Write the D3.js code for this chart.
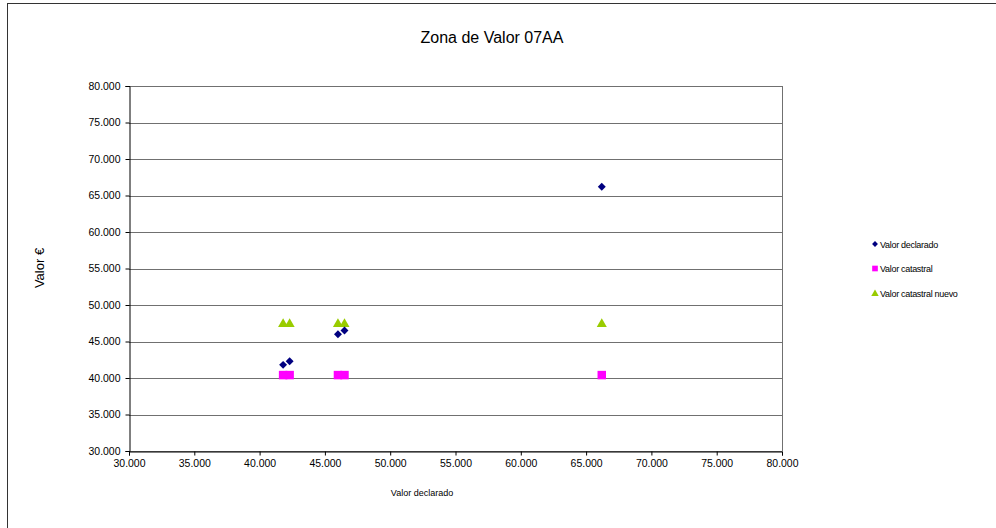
<!DOCTYPE html>
<html>
<head>
<meta charset="utf-8">
<script src="https://cdn.jsdelivr.net/npm/d3@7"></script>
<style>
  body { margin: 0; background: #fff; }
  text { font-family: "Liberation Sans", Arial, sans-serif; fill: #000; }
</style>
</head>
<body>
<svg id="chart" width="996" height="528"></svg>
<script>
// data
const declarado = [41800, 42300, 46000, 46500, 66200];
const valorDeclarado = [41800, 42300, 46000, 46500, 66200];
const valorCatastral = [40400, 40400, 40400, 40400, 40400];
const valorCatastralNuevo = [47600, 47600, 47600, 47600, 47600];
const seriesNames = ["Valor declarado", "Valor catastral", "Valor catastral nuevo"];
const xTicks = d3.range(30000, 80001, 5000);
const yTicks = d3.range(30000, 80001, 5000);

const svg = d3.select("#chart");
// Spanish style thousands: 30.000
const tickFmt = v => (v / 1000).toFixed(0) + ".000";

// outer chart border
svg.append("rect")
  .attr("x", 7.5).attr("y", 3.5)
  .attr("width", 1000).attr("height", 540)
  .attr("fill", "none").attr("stroke", "#333");

const plotLeft = 129, plotRight = 782, plotTop = 86, plotBottom = 451;

const x = d3.scaleLinear().domain([30000, 80000]).range([plotLeft, plotRight]);
const y = d3.scaleLinear().domain([30000, 80000]).range([plotBottom, plotTop]);

// gridlines
svg.append("g")
  .selectAll("line")
  .data(yTicks)
  .join("line")
  .attr("x1", plotLeft).attr("x2", plotRight)
  .attr("y1", d => Math.round(y(d)) + 0.5)
  .attr("y2", d => Math.round(y(d)) + 0.5)
  .attr("stroke", "#707070");

// right border of plot area
svg.append("line")
  .attr("x1", plotRight + 0.5).attr("x2", plotRight + 0.5)
  .attr("y1", plotTop).attr("y2", plotBottom)
  .attr("stroke", "#707070");

// axes
const xAxis = svg.append("g")
  .attr("transform", `translate(0,${plotBottom + 0.5})`)
  .call(d3.axisBottom(x).tickValues(xTicks).tickFormat(tickFmt).tickSize(4).tickPadding(4));

const yAxis = svg.append("g")
  .attr("transform", `translate(${plotLeft + 0.5},0)`)
  .call(d3.axisLeft(y).tickValues(yTicks).tickFormat(tickFmt).tickSize(4).tickPadding(5));

[xAxis, yAxis].forEach(g => {
  g.select(".domain").attr("stroke", "#000");
  g.selectAll(".tick line").attr("stroke", "#000");
  g.selectAll("text")
    .attr("font-size", 10)
    .attr("fill", "#222")
    .style("font-family", "'Liberation Sans', Arial, sans-serif")
    .attr("textLength", 32)
    .attr("lengthAdjust", "spacingAndGlyphs");
});

// markers (triangle nudged so its box, not its centroid, sits on the value)
const series = [
  { name: seriesNames[0], values: valorDeclarado, type: d3.symbolDiamond2, size: 40, lsize: 22, dy: 0, color: "#000080" },
  { name: seriesNames[1], values: valorCatastral, type: d3.symbolSquare, size: 72, lsize: 32, dy: 0, color: "#FF00FF" },
  { name: seriesNames[2], values: valorCatastralNuevo, type: d3.symbolTriangle, size: 44, lsize: 24, dy: 1.5, color: "#99CC00" }
];

// draw catastral first, then nuevo, then declarado on top
[series[1], series[2], series[0]].forEach(s => {
  svg.append("g")
    .selectAll("path")
    .data(declarado.map((d, i) => [d, s.values[i]]))
    .join("path")
    .attr("d", d3.symbol().type(s.type).size(s.size))
    .attr("transform", d => `translate(${x(d[0])},${y(d[1]) + s.dy})`)
    .attr("fill", s.color);
});

// title
svg.append("text")
  .attr("x", 492).attr("y", 43)
  .attr("text-anchor", "middle")
  .attr("font-size", 16)
  .text("Zona de Valor 07AA");

// axis titles
svg.append("text")
  .attr("transform", "translate(44,268) rotate(-90)")
  .attr("text-anchor", "middle")
  .attr("font-size", 13)
  .text("Valor €");

svg.append("text")
  .attr("x", 422).attr("y", 496)
  .attr("text-anchor", "middle")
  .attr("font-size", 9)
  .text("Valor declarado");

// legend
const legend = svg.append("g").attr("transform", "translate(875,244)");
series.forEach((s, i) => {
  const g = legend.append("g").attr("transform", `translate(0,${i * 24.5})`);
  g.append("path")
    .attr("d", d3.symbol().type(s.type).size(s.lsize))
    .attr("transform", `translate(0,${s.dy / 2})`)
    .attr("fill", s.color);
  g.append("text")
    .attr("x", 5).attr("y", 3.5)
    .attr("font-size", 9)
    .attr("letter-spacing", -0.3)
    .text(s.name);
});
</script>
</body>
</html>
